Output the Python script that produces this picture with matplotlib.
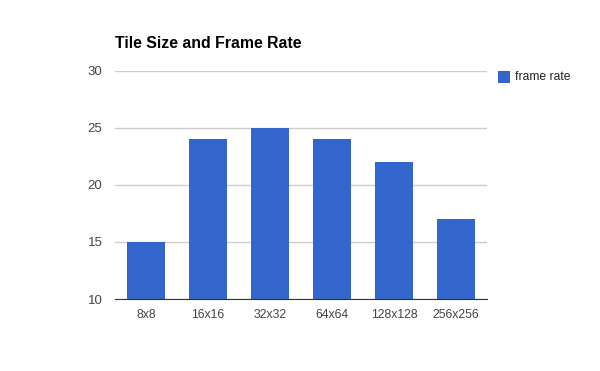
import matplotlib
matplotlib.use("Agg")
import matplotlib.pyplot as plt
from matplotlib.patches import Rectangle

categories = ["8x8", "16x16", "32x32", "64x64", "128x128", "256x256"]
frame_rate = [15, 24, 25, 24, 22, 17]
yticks = [10, 15, 20, 25, 30]

plt.rcParams['font.family'] = ['Liberation Sans', 'DejaVu Sans']

fig = plt.figure(figsize=(6, 3.71), dpi=100)
ax = fig.add_axes([115/600, 1-299/371, (487-115)/600, (299-71)/371])

x = range(len(categories))
ax.bar(x, frame_rate, width=0.613, color="#3366CC", zorder=3)
ax.set_xlim(-0.5, len(categories)-0.5)
ax.set_ylim(10, 30)
ax.set_yticks(yticks)
ax.set_xticks(list(x))
ax.set_xticklabels(categories)
ax.tick_params(axis='both', length=0, colors="#444444")
ax.tick_params(axis='y', pad=9, labelsize=9.5)
ax.tick_params(axis='x', pad=7.5, labelsize=8.8)
for s in ["top", "right", "left"]:
    ax.spines[s].set_visible(False)
ax.spines["bottom"].set_color("#333333")
ax.spines["bottom"].set_zorder(4)
ax.grid(axis='y', color="#cccccc", linewidth=1, zorder=0)
ax.set_axisbelow(True)

fig.text(115/600, 1-44/371, "Tile Size and Frame Rate", fontsize=11.4,
         fontweight="bold", va="center", ha="left", color="#000000")

fig.patches.append(Rectangle((498/600, 1-82.5/371), 12/600, 11.5/371,
                             transform=fig.transFigure, facecolor="#3366CC",
                             edgecolor="none"))
fig.text(515/600, 1-77/371, "frame rate", fontsize=8.7, va="center", ha="left",
         color="#222222")

fig.savefig("out.png", dpi=100)
